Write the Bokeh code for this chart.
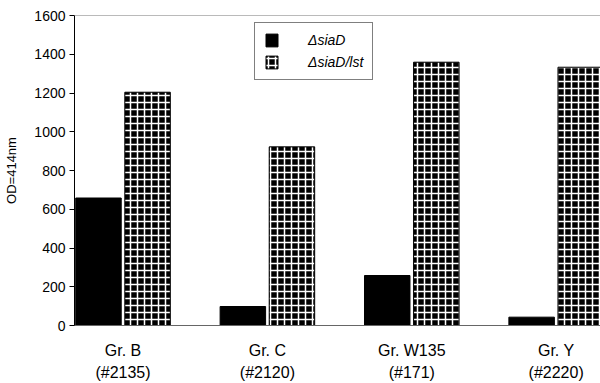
from bokeh.plotting import figure
from bokeh.models import ColumnDataSource, FixedTicker, Legend, LegendItem, Span, Range1d
from bokeh.transform import dodge
from bokeh.embed import file_html
from bokeh.resources import INLINE

# ---- data ----
groups = ["Gr. B\n(#2135)", "Gr. C\n(#2120)", "Gr. W135\n(#171)", "Gr. Y\n(#2220)"]
series_names = ["\u0394siaD", "\u0394siaD/lst"]
siaD = [658, 98, 258, 43]
siaD_lst = [1204, 922, 1359, 1333]
y_ticks = [0, 200, 400, 600, 800, 1000, 1200, 1400, 1600]

FONT = "Liberation Sans"

x = list(range(len(groups)))
src = ColumnDataSource(dict(x=x, a=siaD, b=siaD_lst))

p = figure(width=600, height=383, output_backend="svg", toolbar_location=None,
           x_range=Range1d(-0.336, 3.307), y_range=Range1d(0, 1600),
           min_border_left=74, min_border_right=0, min_border_top=15,
           min_border_bottom=58)
p.outline_line_color = None
p.xgrid.visible = False
p.ygrid.visible = False
p.background_fill_color = "white"
p.border_fill_color = "white"

r1 = p.vbar(x=dodge('x', -0.17), top='a', width=0.315, source=src,
            fill_color='black', line_color='black', line_width=1)
r2 = p.vbar(x=dodge('x', 0.17), top='b', width=0.315, source=src,
            fill_color='black', line_color='black', line_width=1,
            hatch_pattern='+', hatch_color='white', hatch_scale=7, hatch_weight=1.5)

legend = Legend(items=[LegendItem(label=series_names[0], renderers=[r1]),
                       LegendItem(label=series_names[1], renderers=[r2])],
                location=(180, 245), padding=9, spacing=6, glyph_width=15,
                glyph_height=16, label_height=16, label_standoff=29,
                label_text_font=FONT, label_text_font_style="italic",
                label_text_font_size="14px", label_text_color="black",
                border_line_color="black", border_line_width=1, margin=0,
                background_fill_color="white", background_fill_alpha=1)
p.add_layout(legend)

p.add_layout(Span(location=1600, dimension='width', line_color='#777777', line_width=1))

# y axis
p.yaxis.ticker = FixedTicker(ticks=y_ticks)
p.yaxis.minor_tick_line_color = None
p.yaxis.major_tick_out = 5
p.yaxis.major_tick_in = 0
p.yaxis.major_label_standoff = 4
p.yaxis.major_label_text_font = FONT
p.yaxis.major_label_text_font_size = "14px"
p.yaxis.major_label_text_color = "black"
p.yaxis.axis_line_color = "black"
p.yaxis.major_tick_line_color = "black"
p.yaxis.axis_label = "OD=414nm"
p.yaxis.axis_label_text_font = FONT
p.yaxis.axis_label_text_font_style = "normal"
p.yaxis.axis_label_text_font_size = "13px"
p.yaxis.axis_label_text_color = "black"
p.yaxis.axis_label_standoff = 12

# x axis
p.xaxis.ticker = FixedTicker(ticks=x)
p.xaxis.major_label_overrides = {i: g for i, g in zip(x, groups)}
p.xaxis.major_tick_line_color = None
p.xaxis.minor_tick_line_color = None
p.xaxis.axis_line_color = "#666666"
p.xaxis.major_label_standoff = 10
p.xaxis.major_label_text_font = FONT
p.xaxis.major_label_text_font_size = "16px"
p.xaxis.major_label_text_line_height = 1.3
p.xaxis.major_label_text_color = "black"

open("out.html", "w").write(file_html(p, INLINE))
